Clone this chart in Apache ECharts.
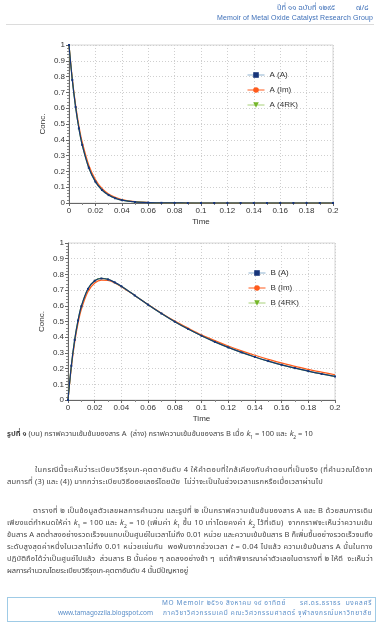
<!DOCTYPE html>
<html><head><meta charset="utf-8">
<script src="https://cdn.jsdelivr.net/npm/echarts@6/dist/echarts.min.js"></script>
<style>
html,body{margin:0;padding:0;background:#fff;width:380px;height:640px;overflow:hidden;}
#page{position:relative;width:380px;height:640px;}
#chart{position:absolute;left:0;top:0;width:380px;height:640px;}
.t{position:absolute;font-family:"Noto Sans Thai","Noto Sans","DejaVu Sans",sans-serif;color:#444;font-size:7.5px;line-height:9px;white-space:nowrap;z-index:2;}
.hd{color:#3d6fb8;}
sub{font-size:5px;line-height:0;}
#rule{position:absolute;left:6px;top:24px;width:368px;height:1px;background:#dcdcdc;}
#foot{position:absolute;left:7px;top:597px;width:367px;height:23px;border:1px solid #9fcbe6;}
.ft{color:#5b8fc9;font-size:6.5px;}
</style></head>
<body><div id="page">
<div id="chart"></div>
<div class="t hd fit" data-l="277" data-r="335" style="left:277px;top:3px;">ปีที่ ๑๑ ฉบับที่ ๑๒๙๕</div>
<div class="t hd" style="left:356px;top:3px;">๗/๘</div>
<div class="t hd fit" data-l="217" data-r="373" style="left:217px;top:13px;font-family:'Liberation Sans',Arial,sans-serif;font-size:7px;">Memoir of Metal Oxide Catalyst Research Group</div>
<div id="rule"></div>

<div class="t fit" data-l="7" data-r="313" style="left:7px;top:429px;"><b>รูปที่ ๑</b> (บน) กราฟความเข้มข้นของสาร A &nbsp;(ล่าง) กราฟความเข้มข้นของสาร B เมื่อ <i>k</i><sub>1</sub> = 100 และ <i>k</i><sub>2</sub> = 10</div>

<div class="t fit" data-l="35" data-r="373" style="left:35px;top:465px;">ในกรณีนี้จะเห็นว่าระเบียบวิธีรุงเก-คุตตาอันดับ 4 ให้คำตอบที่ใกล้เคียงกับคำตอบที่เป็นจริง (ที่คำนวณได้จาก</div>
<div class="t fit" data-l="7" data-r="323" style="left:7px;top:477px;">สมการที่ (3) และ (4)) มากกว่าระเบียบวิธีออยเลอร์โดยนัย &nbsp;ไม่ว่าจะเป็นในช่วงเวลาแรกหรือเมื่อเวลาผ่านไป</div>

<div class="t fit" data-l="33" data-r="373" style="left:33px;top:506px;">ตารางที่ ๒ เป็นข้อมูลตัวเลขผลการคำนวณ และรูปที่ ๒ เป็นกราฟความเข้มข้นของสาร A และ B ด้วยสมการเดิม</div>
<div class="t fit" data-l="7" data-r="373" style="left:7px;top:518px;">เพียงแต่กำหนดให้ค่า <i>k</i><sub>1</sub> = 100 และ <i>k</i><sub>2</sub> = 10 (เพิ่มค่า <i>k</i><sub>1</sub> ขึ้น 10 เท่าโดยคงค่า <i>k</i><sub>2</sub> ไว้ที่เดิม) &nbsp;จากกราฟจะเห็นว่าความเข้ม</div>
<div class="t fit" data-l="7" data-r="373" style="left:7px;top:530px;">ข้นสาร A ลดต่ำลงอย่างรวดเร็วจนแทบเป็นศูนย์ในเวลาไม่ถึง 0.01 หน่วย และความเข้มข้นสาร B ก็เพิ่มขึ้นอย่างรวดเร็วจนถึง</div>
<div class="t fit" data-l="7" data-r="373" style="left:7px;top:542px;">ระดับสูงสุดค่าหนึ่งในเวลาไม่ถึง 0.01 หน่วยเช่นกัน &nbsp;พอพ้นจากช่วงเวลา <i>t</i> = 0.04 ไปแล้ว ความเข้มข้นสาร A นั้นในทาง</div>
<div class="t fit" data-l="7" data-r="373" style="left:7px;top:554px;">ปฏิบัติถือได้ว่าเป็นศูนย์ไปแล้ว &nbsp;ส่วนสาร B นั้นค่อย ๆ ลดลงอย่างช้า ๆ &nbsp;แต่ถ้าพิจารณาค่าตัวเลขในตารางที่ ๒ ให้ดี &nbsp;จะเห็นว่า</div>
<div class="t fit" data-l="7" data-r="188" style="left:7px;top:566px;">ผลการคำนวณโดยระเบียบวิธีรุงเก-คุตตาอันดับ 4 นั้นมีปัญหาอยู่</div>

<div id="foot"></div>
<div class="t ft fit" data-l="162" data-r="372" style="left:162px;top:599px;">MO Memoir ๒๕๖๑ สิงหาคม ๑๙ อาทิตย์ &nbsp;&nbsp;&nbsp;&nbsp;&nbsp;รศ.ดร.ธราธร &nbsp;มงคลศรี</div>
<div class="t ft fit" data-l="58" data-r="153" style="left:58px;top:609px;">www.tamagozzila.blogspot.com</div>
<div class="t ft fit" data-l="163" data-r="372" style="left:163px;top:609px;">ภาควิชาวิศวกรรมเคมี คณะวิศวกรรมศาสตร์ จุฬาลงกรณ์มหาวิทยาลัย</div>
</div>
<script>
// Time points (shared by all series)
var timeVals = [0, 0.0025, 0.005, 0.0075, 0.01, 0.015, 0.02, 0.025, 0.03, 0.035, 0.04, 0.05, 0.06, 0.07, 0.08, 0.09, 0.1, 0.11, 0.12, 0.13, 0.14, 0.15, 0.16, 0.17, 0.18, 0.19, 0.2];
// Concentration of A
var aAnalytic = [1, 0.779, 0.607, 0.472, 0.368, 0.223, 0.135, 0.082, 0.050, 0.030, 0.018, 0.007, 0.0025, 0.0009, 0.0003, 0.0001, 0, 0, 0, 0, 0, 0, 0, 0, 0, 0, 0];
var aImplicit = [1, 0.788, 0.621, 0.489, 0.386, 0.239, 0.149, 0.092, 0.057, 0.036, 0.022, 0.0085, 0.0033, 0.0013, 0.0005, 0.0002, 0.0001, 0, 0, 0, 0, 0, 0, 0, 0, 0, 0];
var aRK4 = [1, 0.779, 0.607, 0.472, 0.368, 0.223, 0.135, 0.082, 0.050, 0.030, 0.018, 0.007, 0.0025, 0.0009, 0.0003, 0.0001, 0, 0, 0, 0, 0, 0, 0, 0, 0, 0, 0];
// Concentration of B
var bAnalytic = [0, 0.218, 0.383, 0.506, 0.597, 0.708, 0.759, 0.774, 0.768, 0.749, 0.724, 0.666, 0.607, 0.551, 0.499, 0.452, 0.409, 0.370, 0.335, 0.303, 0.274, 0.248, 0.224, 0.203, 0.184, 0.166, 0.150];
var bImplicit = [0, 0.208, 0.367, 0.488, 0.578, 0.691, 0.745, 0.764, 0.761, 0.745, 0.722, 0.666, 0.608, 0.553, 0.503, 0.458, 0.415, 0.378, 0.344, 0.313, 0.285, 0.259, 0.236, 0.214, 0.195, 0.177, 0.161];
var bRK4 = [0, 0.219, 0.384, 0.507, 0.598, 0.709, 0.760, 0.775, 0.769, 0.749, 0.724, 0.666, 0.607, 0.551, 0.499, 0.452, 0.409, 0.370, 0.335, 0.303, 0.274, 0.248, 0.224, 0.203, 0.184, 0.166, 0.150];
var xTicks = ['0', '0.02', '0.04', '0.06', '0.08', '0.1', '0.12', '0.14', '0.16', '0.18', '0.2'];
var namesA = ['A (A)', 'A (Im)', 'A (4RK)'];
var namesB = ['B (A)', 'B (Im)', 'B (4RK)'];

var NAVY = '#17357a', ORANGE = '#ff5b1c', GREEN = '#76b82a';
var FONT = "'Liberation Sans', Arial, sans-serif";
var TRI_DOWN = 'path://M0,0 L10,0 L5,9 Z';

function pairs(vals) { return timeVals.map(function (t, i) { return [t, vals[i]]; }); }

function xAxis(gi) {
  return {
    type: 'value', gridIndex: gi, min: 0, max: 0.2, interval: 0.02,
    name: 'Time', nameLocation: 'middle', nameGap: 15, nameMoveOverlap: false,
    nameTextStyle: { fontFamily: FONT, fontSize: 8, color: '#333' },
    axisLine: { lineStyle: { color: '#666', width: 1 } },
    axisTick: { show: true, inside: false, length: 3, lineStyle: { color: '#666' } },
    minorTick: { show: true, splitNumber: 2, length: 2, lineStyle: { color: '#888' } },
    axisLabel: { fontFamily: FONT, fontSize: 8, color: '#333', margin: 4,
      formatter: function (v) { return xTicks[Math.round(v / 0.02)]; } },
    splitLine: { show: true, lineStyle: { color: '#cfcfcf', type: [1, 2], width: 1 } }
  };
}
function yAxis(gi) {
  return {
    type: 'value', gridIndex: gi, min: 0, max: 1, interval: 0.1,
    name: 'Conc.', nameLocation: 'middle', nameGap: 22, nameRotate: 90, nameMoveOverlap: false,
    nameTextStyle: { fontFamily: FONT, fontSize: 8, color: '#333' },
    axisLine: { show: true, lineStyle: { color: '#666', width: 1 } },
    axisTick: { show: true, length: 3, lineStyle: { color: '#666' } },
    minorTick: { show: true, splitNumber: 5, length: 2, lineStyle: { color: '#888' } },
    axisLabel: { fontFamily: FONT, fontSize: 8, color: '#333', margin: 4 },
    splitLine: { show: true, lineStyle: { color: '#cfcfcf', type: [1, 2], width: 1 } }
  };
}
function legend(names, left, top) {
  return {
    orient: 'vertical', left: left, top: top, itemWidth: 17, itemHeight: 7, itemGap: 7,
    textStyle: { fontFamily: FONT, fontSize: 8, color: '#333' },
    data: [
      { name: names[0], lineStyle: { color: '#8fb3d0', width: 1 }, itemStyle: { color: NAVY } },
      { name: names[1], lineStyle: { color: ORANGE, width: 1 }, itemStyle: { color: ORANGE } },
      { name: names[2], lineStyle: { color: '#a8d17a', width: 1 }, itemStyle: { color: GREEN } }
    ]
  };
}
function series(names, gi, an, im, rk) {
  return [
    { name: names[1], type: 'line', xAxisIndex: gi, yAxisIndex: gi, data: pairs(im), smooth: 0.3,
      symbol: 'circle', showSymbol: false, lineStyle: { color: ORANGE, width: 1.2 }, itemStyle: { color: ORANGE } },
    { name: names[2], type: 'line', xAxisIndex: gi, yAxisIndex: gi, data: pairs(rk), smooth: 0.3,
      symbol: TRI_DOWN, showSymbol: false, lineStyle: { color: GREEN, width: 1.2 }, itemStyle: { color: GREEN } },
    { name: names[0], type: 'line', xAxisIndex: gi, yAxisIndex: gi, data: pairs(an), smooth: 0.3,
      symbol: 'rect', symbolSize: 2, showSymbol: true, lineStyle: { color: NAVY, width: 1.2 }, itemStyle: { color: NAVY } }
  ];
}

var chart = echarts.init(document.getElementById('chart'), null, { renderer: 'canvas' });
chart.setOption({
  animation: false,
  backgroundColor: 'transparent',
  grid: [
    { left: 69, top: 45, width: 264, height: 158, show: true, borderColor: '#d6d6d6', borderWidth: 1 },
    { left: 68, top: 243, width: 267, height: 157, show: true, borderColor: '#d6d6d6', borderWidth: 1 }
  ],
  xAxis: [xAxis(0), xAxis(1)],
  yAxis: [yAxis(0), yAxis(1)],
  legend: [legend(namesA, 242, 66), legend(namesB, 243, 264)],
  series: series(namesA, 0, aAnalytic, aImplicit, aRK4).concat(series(namesB, 1, bAnalytic, bImplicit, bRK4))
});

// Distribute each text line across its measured span (as the Thai page layout does)
function fitLines() {
  var els = document.querySelectorAll('.fit');
  els.forEach(function (el) {
    var target = parseFloat(el.dataset.r) - parseFloat(el.dataset.l);
    el.style.letterSpacing = '0px';
    var w0 = el.getBoundingClientRect().width;
    el.style.letterSpacing = '1px';
    var w1 = el.getBoundingClientRect().width;
    var k = w1 - w0;
    var s = k > 0 ? (target - w0) / k : 0;
    el.style.letterSpacing = s.toFixed(3) + 'px';
  });
}
fitLines();
if (document.fonts && document.fonts.ready) document.fonts.ready.then(fitLines);
</script>
</body></html>
